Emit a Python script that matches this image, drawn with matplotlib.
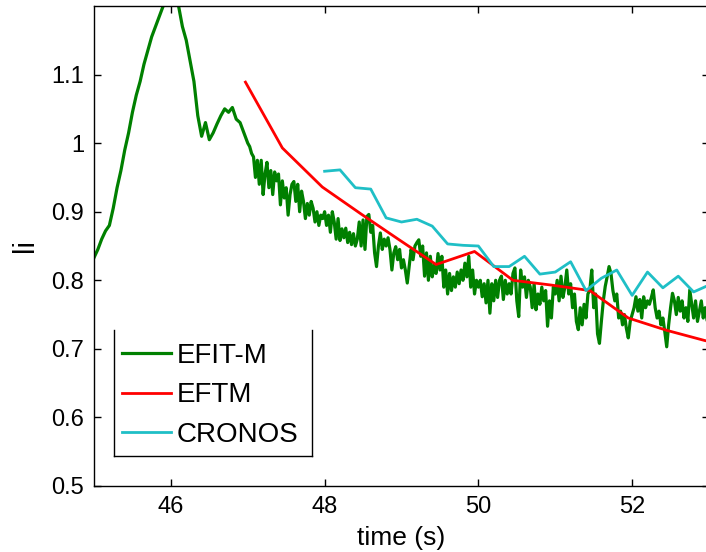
import matplotlib
matplotlib.use("Agg")
import matplotlib.pyplot as plt
from matplotlib.lines import Line2D
import numpy as np

# EFIT-M, smooth part 45.00 .. 47.00 every 0.05 s
efit_t0, efit_dt0 = 45.0, 0.05
efit_early = [
    0.833, 0.845, 0.860, 0.872, 0.880, 0.905, 0.935, 0.960, 0.990, 1.015,
    1.045, 1.070, 1.090, 1.115, 1.135, 1.155, 1.170, 1.185, 1.200, 1.215,
    1.225, 1.220, 1.200, 1.170, 1.150, 1.120, 1.090, 1.040, 1.010, 1.030,
    1.005, 1.015, 1.028, 1.040, 1.050, 1.045, 1.052, 1.035, 1.030, 1.015,
    1.000,
]
# EFIT-M, noisy part 47.025 .. 53.00 every 0.025 s
efit_t1, efit_dt1 = 47.025, 0.025
efit_noisy = [
    0.995, 0.985, 0.980, 0.950, 0.975, 0.940, 0.975, 0.925,
    0.955, 0.972, 0.935, 0.960, 0.925, 0.958, 0.945, 0.955,
    0.910, 0.945, 0.920, 0.935, 0.895, 0.925, 0.940, 0.944,
    0.915, 0.940, 0.900, 0.930, 0.915, 0.890, 0.912, 0.895,
    0.915, 0.905, 0.885, 0.900, 0.880, 0.895, 0.890, 0.900,
    0.880, 0.895, 0.870, 0.900, 0.885, 0.860, 0.890, 0.858,
    0.875, 0.862, 0.876, 0.855, 0.870, 0.852, 0.868, 0.850,
    0.860, 0.885, 0.850, 0.888, 0.845, 0.893, 0.896, 0.870,
    0.880, 0.840, 0.820, 0.850, 0.869, 0.845, 0.860, 0.850,
    0.862, 0.845, 0.815, 0.840, 0.849, 0.830, 0.845, 0.818,
    0.830, 0.815, 0.796, 0.820, 0.845, 0.830, 0.850, 0.855,
    0.859, 0.835, 0.850, 0.806, 0.840, 0.800, 0.835, 0.805,
    0.822, 0.810, 0.839, 0.815, 0.835, 0.790, 0.815, 0.780,
    0.810, 0.785, 0.805, 0.790, 0.812, 0.795, 0.815, 0.800,
    0.825, 0.805, 0.835, 0.790, 0.815, 0.780, 0.800, 0.790,
    0.800, 0.776, 0.795, 0.767, 0.800, 0.752, 0.795, 0.770,
    0.800, 0.775, 0.800, 0.806, 0.772, 0.800, 0.780, 0.795,
    0.780, 0.810, 0.818, 0.770, 0.747, 0.815, 0.790, 0.805,
    0.775, 0.800, 0.790, 0.760, 0.795, 0.757, 0.780, 0.765,
    0.790, 0.770, 0.785, 0.733, 0.770, 0.745, 0.790, 0.780,
    0.800, 0.770, 0.806, 0.775, 0.790, 0.815, 0.780, 0.795,
    0.760, 0.780, 0.740, 0.728, 0.760, 0.735, 0.765, 0.745,
    0.780, 0.786, 0.815, 0.760, 0.780, 0.722, 0.708, 0.740,
    0.770, 0.791, 0.805, 0.820, 0.810, 0.785, 0.770, 0.780,
    0.745, 0.755, 0.735, 0.750, 0.730, 0.716, 0.740, 0.750,
    0.760, 0.776, 0.755, 0.772, 0.745, 0.776, 0.760, 0.770,
    0.765, 0.775, 0.786, 0.760, 0.745, 0.755, 0.735, 0.745,
    0.725, 0.703, 0.735, 0.760, 0.781, 0.770, 0.750, 0.775,
    0.755, 0.770, 0.745, 0.760, 0.740, 0.786, 0.765, 0.745,
    0.770, 0.740, 0.755, 0.770, 0.745, 0.760, 0.742, 0.735,
]

eftm_t = [46.97, 47.45, 47.97, 48.47, 48.97, 49.45, 49.95, 50.45, 50.95,
          51.45, 51.95, 52.45, 52.95, 53.05]
eftm_li = [1.089, 0.993, 0.936, 0.897, 0.859, 0.823, 0.842, 0.800, 0.793,
           0.785, 0.745, 0.727, 0.712, 0.710]

cronos_t = [48.0, 48.2, 48.4, 48.6, 48.8, 49.0, 49.2, 49.4, 49.6, 49.8,
            50.0, 50.2, 50.4, 50.6, 50.8, 51.0, 51.2, 51.4, 51.6, 51.8,
            52.0, 52.2, 52.4, 52.6, 52.8, 53.0]
cronos_li = [0.959, 0.961, 0.935, 0.933, 0.891, 0.885, 0.889, 0.879, 0.853, 0.851,
             0.850, 0.820, 0.820, 0.835, 0.809, 0.812, 0.827, 0.785, 0.803, 0.815,
             0.778, 0.812, 0.789, 0.806, 0.783, 0.793]

efit_t = np.concatenate([
    efit_t0 + efit_dt0 * np.arange(len(efit_early)),
    efit_t1 + efit_dt1 * np.arange(len(efit_noisy)),
])
efit_li = np.array(efit_early + efit_noisy)

plt.rcParams["font.family"] = ["Liberation Sans", "DejaVu Sans"]
plt.rcParams["font.size"] = 17

fig = plt.figure(figsize=(7.06, 5.52), dpi=100)
ax = fig.add_axes([94 / 706, 66 / 552, 615 / 706, 480 / 552])

ax.plot(efit_t, efit_li, color="#008000", lw=2.3, label="EFIT-M")
ax.plot(eftm_t, eftm_li, color="#ff0000", lw=2.0, label="EFTM")
ax.plot(cronos_t, cronos_li, color="#1fbfc6", lw=2.0, label="CRONOS")

ax.set_xlim(45, 53)
ax.set_ylim(0.5, 1.2)
ax.set_xticks([46, 48, 50, 52])
ax.set_yticks([0.5, 0.6, 0.7, 0.8, 0.9, 1.0, 1.1])
ax.set_yticklabels(["0.5", "0.6", "0.7", "0.8", "0.9", "1", "1.1"])
ax.tick_params(direction="in", length=5, width=1, top=True, right=True)
ax.tick_params(axis="x", pad=7)
ax.tick_params(axis="y", pad=7)
for s in ax.spines.values():
    s.set_linewidth(1)

ax.set_xlabel("time (s)", fontsize=19, labelpad=6)
ax.set_ylabel("li", fontsize=21, labelpad=9)

leg = ax.legend(loc="lower left", bbox_to_anchor=(0.0325, 0.0625), borderaxespad=0,
                prop={"size": 20}, frameon=False,
                handlelength=1.75, handletextpad=0.22, labelspacing=0.48,
                borderpad=0.3)

# MATLAB-like box around the legend, open at the top (pixel coords, origin bottom-left)
bx0, bx1 = 114, 312
by0, by1 = 552 - 456, 552 - 330
for xs, ys in [([bx0, bx0], [by0, by1]), ([bx1, bx1], [by0, by1]), ([bx0, bx1], [by0, by0])]:
    fig.add_artist(Line2D(xs, ys, transform=None, color="black", lw=1))

fig.savefig("out.png", dpi=100)
